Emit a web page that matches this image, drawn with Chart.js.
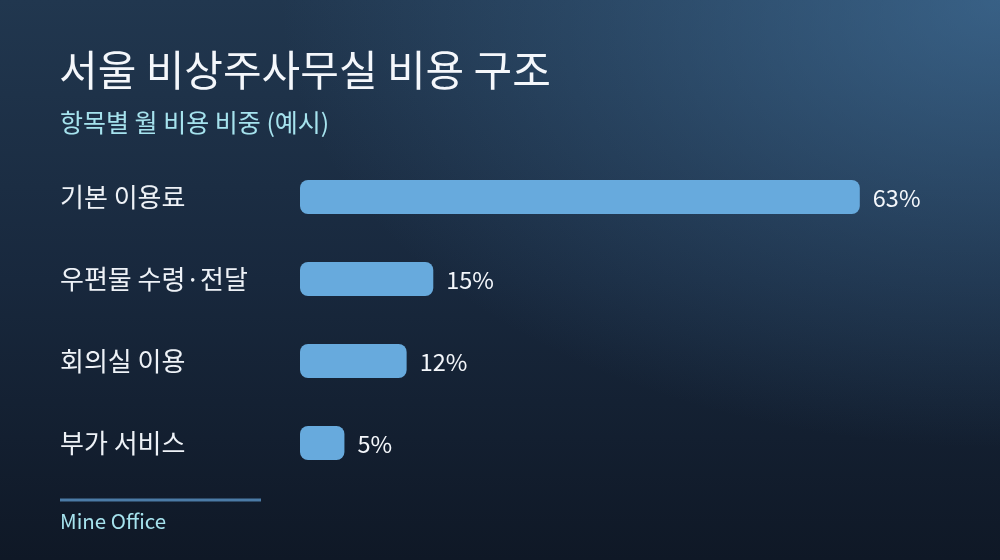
<!DOCTYPE html>
<html>
<head>
<meta charset="utf-8">
<script src="https://cdn.jsdelivr.net/npm/chart.js@4/dist/chart.umd.min.js"></script>
<style>
  html, body { margin: 0; padding: 0; }
  body {
    width: 1000px; height: 560px; overflow: hidden;
    background:
      radial-gradient(ellipse 90% 100% at 100% 0%, rgba(72, 124, 170, 0.6) 0%, rgba(72, 124, 170, 0.25) 45%, rgba(72, 124, 170, 0) 80%),
      linear-gradient(180deg, #21374f 0%, #18283d 50%, #0f1826 100%);
  }
  #wrap { position: relative; width: 1000px; height: 560px; }
</style>
</head>
<body>
<div id="wrap"><canvas id="myChart"></canvas></div>
<script>
'use strict'

// chart data
const categories = ['기본 이용료', '우편물 수령·전달', '회의실 이용', '부가 서비스'];
const shares = [63, 15, 12, 5];
const titleText = '서울 비상주사무실 비용 구조';
const subtitleText = '항목별 월 비용 비중 (예시)';
const sourceText = 'Mine Office';

const FONT = "'Noto Sans CJK KR', 'Noto Sans', sans-serif";

// title, subtitle, footer and value labels
const decorPlugin = {
  id: 'decor',
  afterDatasetsDraw(chart) {
    const ctx = chart.ctx;
    ctx.save();
    ctx.textBaseline = 'middle';
    ctx.textAlign = 'left';

    ctx.fillStyle = '#f4f7fb';
    ctx.font = '400 42px ' + FONT;
    ctx.fillText(titleText, 59, 70);

    ctx.fillStyle = '#a6e3ee';
    ctx.font = '400 25px ' + FONT;
    ctx.fillText(subtitleText, 60, 122);

    // footer rule + source
    ctx.strokeStyle = '#4b7ba6';
    ctx.lineWidth = 3;
    ctx.beginPath();
    ctx.moveTo(60, 500);
    ctx.lineTo(261, 500);
    ctx.stroke();

    ctx.fillStyle = '#a6e3ee';
    ctx.font = '400 20.5px ' + FONT;
    ctx.fillText(sourceText, 60, 521);

    // value labels at the end of bars
    const meta = chart.getDatasetMeta(0);
    ctx.fillStyle = '#f4f7fb';
    ctx.font = '400 23.5px ' + FONT;
    meta.data.forEach(function(bar, i) {
      ctx.fillText(shares[i] + '%', bar.x + 13, bar.y + 1);
    });
    ctx.restore();
  }
};

function chartResults() {
  const ctx = document.getElementById('myChart').getContext('2d');
  new Chart(ctx, {
    type: 'bar',
    data: {
      labels: categories,
      datasets: [{
        data: shares,
        backgroundColor: '#67aadd',
        borderRadius: 8,
        borderSkipped: false,
        barPercentage: 0.415,
        categoryPercentage: 1
      }]
    },
    options: {
      indexAxis: 'y',
      responsive: true,
      maintainAspectRatio: false,
      animation: false,
      layout: { padding: { left: 60, right: 78, top: 156, bottom: 76 } },
      plugins: {
        legend: { display: false },
        tooltip: { enabled: false }
      },
      scales: {
        x: {
          display: false,
          min: 0,
          max: 70
        },
        y: {
          grid: { display: false },
          border: { display: false },
          afterFit(scale) { scale.width = 240; },
          ticks: {
            crossAlign: 'far',
            color: '#eef2f7',
            font: { family: FONT, size: 26, weight: '400' }
          }
        }
      }
    },
    plugins: [decorPlugin]
  });
}

chartResults();
</script>
</body>
</html>
